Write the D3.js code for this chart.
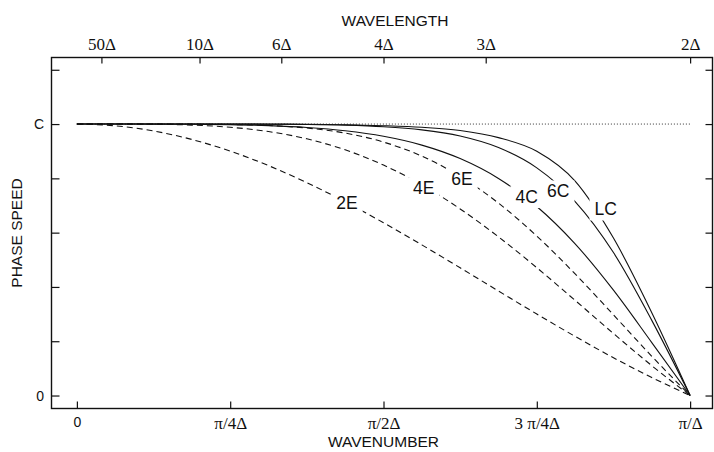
<!DOCTYPE html>
<html>
<head>
<meta charset="utf-8">
<script src="https://cdn.jsdelivr.net/npm/d3@7/dist/d3.min.js"></script>
<style>
  body { margin: 0; background: #fff; }
  svg { display: block; }
</style>
</head>
<body>
<div id="chart"></div>
<script>
// wavenumber k in units of pi/Delta
var waveNumber = [0, 0.0625, 0.125, 0.1875, 0.25, 0.3125, 0.375, 0.4375, 0.5,
                  0.5625, 0.625, 0.6875, 0.75, 0.8125, 0.875, 0.9375, 1];

// phase speed / C
var speed2E = [1, 0.9936, 0.9745, 0.9432, 0.9003, 0.8469, 0.7842, 0.7136, 0.6366,
               0.5550, 0.4705, 0.3850, 0.3001, 0.2177, 0.1392, 0.0662, 0];
var speed4E = [1, 1.0000, 0.9992, 0.9962, 0.9882, 0.9724, 0.9456, 0.9051, 0.8488,
               0.7761, 0.6874, 0.5846, 0.4709, 0.3505, 0.2285, 0.1100, 0];
var speed6E = [1, 1, 1.0000, 0.9997, 0.9985, 0.9947, 0.9854, 0.9667, 0.9337,
               0.8818, 0.8073, 0.7088, 0.5875, 0.4479, 0.2972, 0.1446, 0];
var speed4C = [1, 1, 0.9999, 0.9993, 0.9977, 0.9942, 0.9874, 0.9753, 0.9549,
               0.9225, 0.8728, 0.7996, 0.6964, 0.5588, 0.3881, 0.1950, 0];
var speed6C = [1, 1, 1, 1, 0.9999, 0.9995, 0.9985, 0.9960, 0.9903,
               0.9786, 0.9558, 0.9134, 0.8386, 0.7145, 0.5266, 0.2768, 0];
var speedLC = [1, 1, 1, 1, 1, 0.9998, 0.9993, 0.9975, 0.9940,
               0.9880, 0.9760, 0.9500, 0.9000, 0.7900, 0.5800, 0.3050, 0];

var seriesNames = ["2E", "4E", "6E", "4C", "6C", "LC"];
var seriesValues = [speed2E, speed4E, speed6E, speed4C, speed6C, speedLC];
var seriesDashed = [true, true, true, false, false, false];

// curve label anchors (k, speed)
var labelK = [0.4405, 0.5657, 0.628, 0.7334, 0.785, 0.8623];
var labelSpeed = [0.687, 0.742, 0.774, 0.709, 0.7296, 0.6632];

var bottomTicks = [0, 0.25, 0.5, 0.75, 1];
var bottomTickLabels = ["0", "\u03c0/4\u0394", "\u03c0/2\u0394", "3 \u03c0/4\u0394", "\u03c0/\u0394"];
var wavelengths = [50, 10, 6, 4, 3, 2];
var wavelengthLabels = ["50\u0394", "10\u0394", "6\u0394", "4\u0394", "3\u0394", "2\u0394"];
var speedTicks = [0, 0.2, 0.4, 0.6, 0.8, 1, 1.2];
var speedTickLabels = ["0", "", "", "", "", "C", ""];

var W = 714, H = 452;
var box = {left: 51.5, right: 712.5, top: 57.5, bottom: 408.5};
var sans = "'Liberation Sans', Arial, Helvetica, sans-serif";
var serif = "'Liberation Serif', 'Times New Roman', serif";

var svg = d3.select("#chart").append("svg")
    .attr("width", W)
    .attr("height", H);

var x = d3.scaleLinear()
    .domain([-0.0414, 1.0365])
    .range([box.left, box.right]);
var y = d3.scaleLinear()
    .domain([-0.0478, 1.2452])
    .range([box.bottom, box.top]);

// reference line at C
svg.append("line")
    .attr("x1", x(0)).attr("x2", x(1))
    .attr("y1", y(1)).attr("y2", y(1))
    .attr("stroke", "#333")
    .attr("stroke-width", 1)
    .attr("stroke-dasharray", "1,2");

var line = d3.line()
    .x(function(d){ return x(d[0]); })
    .y(function(d){ return y(d[1]); })
    .curve(d3.curveMonotoneX);

seriesValues.forEach(function(vals, s){
    svg.append("path")
        .datum(waveNumber.map(function(k, i){ return [k, vals[i]]; }))
        .attr("fill", "none")
        .attr("stroke", "#111")
        .attr("stroke-width", 1.1)
        .attr("stroke-dasharray", seriesDashed[s] ? "6,4" : null)
        .attr("d", line);
});

// curve labels, with a white patch that breaks the line
seriesNames.forEach(function(name, s){
    var g = svg.append("g");
    var t = g.append("text")
        .attr("x", x(labelK[s]))
        .attr("y", y(labelSpeed[s]))
        .attr("text-anchor", "middle")
        .style("font-family", sans)
        .style("font-size", "17.5px")
        .attr("fill", "#111")
        .text(name);
    var bb = t.node().getBBox();
    g.insert("rect", "text")
        .attr("x", bb.x - 5)
        .attr("y", bb.y - 1)
        .attr("width", bb.width + 10)
        .attr("height", bb.height + 2)
        .attr("fill", "#fff");
});

// axes
var xBottom = d3.axisBottom(x)
    .tickValues(bottomTicks)
    .tickFormat(function(d, i){ return bottomTickLabels[i]; })
    .tickSizeInner(-7).tickSizeOuter(0).tickPadding(8.5);
var xTop = d3.axisTop(x)
    .tickValues(wavelengths.map(function(L){ return 2 / L; }))
    .tickFormat(function(d, i){ return wavelengthLabels[i]; })
    .tickSizeInner(-6).tickSizeOuter(0).tickPadding(8);
var yLeft = d3.axisLeft(y)
    .tickValues(speedTicks)
    .tickFormat(function(d, i){ return speedTickLabels[i]; })
    .tickSizeInner(-8).tickSizeOuter(0).tickPadding(7.5);
var yRight = d3.axisRight(y)
    .tickValues(speedTicks)
    .tickFormat("")
    .tickSizeInner(-7).tickSizeOuter(0);

var gB = svg.append("g").attr("transform", "translate(0," + box.bottom + ")").call(xBottom);
var gT = svg.append("g").attr("transform", "translate(0," + box.top + ")").call(xTop);
var gL = svg.append("g").attr("transform", "translate(" + box.left + ",0)").call(yLeft);
var gR = svg.append("g").attr("transform", "translate(" + box.right + ",0)").call(yRight);

[gB, gT, gL, gR].forEach(function(g){
    g.select(".domain").remove();
    g.selectAll(".tick line").attr("stroke", "#111").attr("stroke-width", 1.2);
    g.selectAll("text").attr("fill", "#111");
});
gB.selectAll(".tick text")
    .style("font-family", function(d){ return d === 0 ? sans : serif; })
    .style("font-size", function(d){ return d === 0 ? "14px" : "17px"; });
gT.selectAll(".tick text").style("font-family", serif).style("font-size", "17px");
gL.selectAll(".tick text").style("font-family", sans).style("font-size", "14px");

svg.append("rect")
    .attr("x", box.left).attr("y", box.top)
    .attr("width", box.right - box.left)
    .attr("height", box.bottom - box.top)
    .attr("fill", "none")
    .attr("stroke", "#111")
    .attr("stroke-width", 1.4);

// axis titles
svg.append("text")
    .attr("x", 395).attr("y", 25.5)
    .attr("text-anchor", "middle")
    .style("font-family", sans).style("font-size", "15.5px").attr("fill", "#111")
    .text("WAVELENGTH");
svg.append("text")
    .attr("x", x(0.5)).attr("y", 447)
    .attr("text-anchor", "middle")
    .style("font-family", sans).style("font-size", "15.5px").attr("fill", "#111")
    .text("WAVENUMBER");
svg.append("text")
    .attr("transform", "translate(22," + ((box.top + box.bottom) / 2) + ") rotate(-90)")
    .attr("text-anchor", "middle")
    .style("font-family", sans).style("font-size", "15.5px").attr("fill", "#111")
    .text("PHASE SPEED");
</script>
</body>
</html>
